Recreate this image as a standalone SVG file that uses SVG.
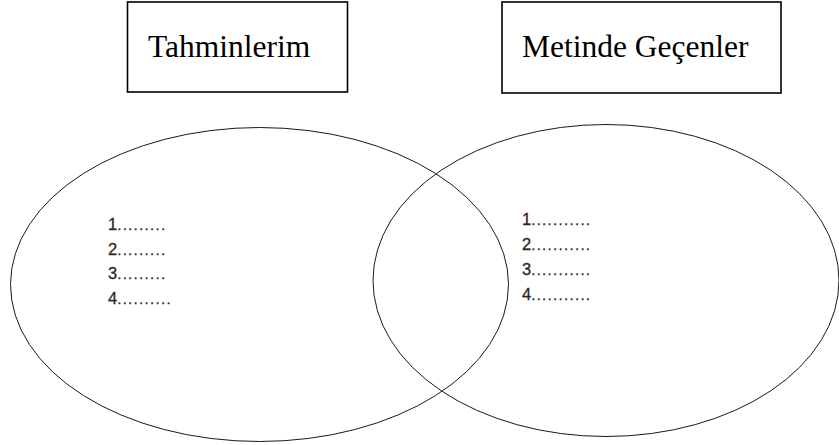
<svg xmlns="http://www.w3.org/2000/svg" width="839" height="445" viewBox="0 0 839 445">
  <style>
    .box { fill: #ffffff; stroke: #000000; stroke-width: 1.6; }
    .title { font-family: "Liberation Serif", "Times New Roman", serif; font-size: 31.5px; fill: #000000; }
    .set { fill: none; stroke: #1a1a1a; stroke-width: 1; }
    .item { font-family: "Liberation Sans", Arial, sans-serif; font-size: 16.5px; fill: #2e2620; stroke: #2e2620; stroke-width: 0.3px; }
    .dots { font-size: 15px; letter-spacing: 1.3px; fill: #26303c; stroke: #26303c; }
  </style>
  <rect width="839" height="445" fill="#ffffff"/>

  <!-- title boxes -->
  <g id="box-tahminlerim">
    <rect class="box" x="127.5" y="2" width="220" height="90"/>
    <text class="title" x="148" y="57">Tahminlerim</text>
  </g>
  <g id="box-metinde">
    <rect class="box" x="502" y="2" width="279" height="91"/>
    <text class="title" x="522" y="57">Metinde Geçenler</text>
  </g>

  <!-- overlapping sets -->
  <g id="set-left">
    <ellipse class="set" cx="259.5" cy="284.5" rx="249" ry="157"/>
    <text class="item" x="108" y="230">1<tspan class="dots">.........</tspan></text>
    <text class="item" x="108" y="254.7">2<tspan class="dots">.........</tspan></text>
    <text class="item" x="108" y="279.3">3<tspan class="dots">.........</tspan></text>
    <text class="item" x="108" y="304">4<tspan class="dots">..........</tspan></text>
  </g>
  <g id="set-right">
    <ellipse class="set" cx="606" cy="280.5" rx="233" ry="156"/>
    <text class="item" x="522" y="224.8">1<tspan class="dots">...........</tspan></text>
    <text class="item" x="522" y="249.8">2<tspan class="dots">...........</tspan></text>
    <text class="item" x="522" y="275">3<tspan class="dots">...........</tspan></text>
    <text class="item" x="522" y="300.2">4<tspan class="dots">...........</tspan></text>
  </g>
</svg>
